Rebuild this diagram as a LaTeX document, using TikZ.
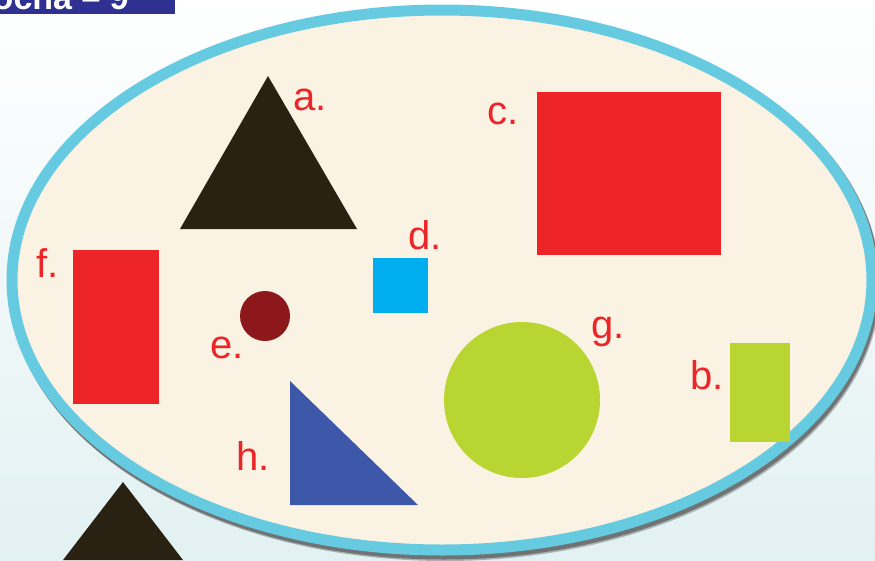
\documentclass[tikz,border=0pt]{standalone}
\usepackage{fontspec}
\setmainfont{Liberation Sans}
\definecolor{bgbot}{RGB}{226,241,242}
\definecolor{cream}{RGB}{250,242,227}
\definecolor{rimblue}{RGB}{102,203,224}
\definecolor{shpred}{RGB}{237,36,40}
\definecolor{shpblack}{RGB}{41,34,18}
\definecolor{shpcyan}{RGB}{0,174,239}
\definecolor{shpmaroon}{RGB}{140,24,28}
\definecolor{shpgreen}{RGB}{185,213,50}
\definecolor{shpblue}{RGB}{61,88,168}
\definecolor{hdrblue}{RGB}{46,49,146}
\tikzset{
  lbl/.style={text=shpred, inner sep=0pt, anchor=base west, font=\fontsize{40}{40}\selectfont},
  shp/.style={draw=none}
}
\begin{document}
\begin{tikzpicture}[x=1pt,y=-1pt]
\useasboundingbox (0,0) rectangle (875,560);
\shade[top color=white, bottom color=bgbot] (0,0) rectangle (875,560);
% header
\begin{scope}
\clip (0,0) rectangle (875,14);
\fill[hdrblue] (0,0) rectangle (175,14);
\node[text=white, inner sep=0pt, anchor=base east, font=\fontsize{34}{34}\selectfont\bfseries] (hdr) at (129,9) {ločna -- 9};
\end{scope}
% ellipse with shadow
\draw[black!75, line width=11pt, opacity=0.55] (444,283) ellipse [x radius=430, y radius=271];
\draw[black!75, line width=11pt, opacity=0.35] (445,284.5) ellipse [x radius=430, y radius=271];
\draw[rimblue, fill=cream, line width=11pt] (442,280) ellipse [x radius=430, y radius=270];
% a
\fill[shpblack] (268,76) -- (357,229) -- (180,229) -- cycle;
\node[lbl] (la) at (293,110) {a.};
% c
\fill[shpred] (537,92) rectangle (721,255);
\node[lbl] (lc) at (487,124) {c.};
% d
\fill[shpcyan] (373,258) rectangle (428,313);
\node[lbl] (ld) at (408,249) {d.};
% e
\fill[shpmaroon] (265,316) circle (25);
\node[lbl] (le) at (210,358) {e.};
% f
\fill[shpred] (73,250) rectangle (159,404);
\node[lbl] (lf) at (36,277) {f.};
% g
\fill[shpgreen] (522,400) circle (78);
\node[lbl] (lg) at (591,338) {g.};
% b
\fill[shpgreen] (730,343) rectangle (790,442);
\node[lbl] (lb) at (690,389) {b.};
% h
\fill[shpblue] (290,381) -- (418,505) -- (290,505) -- cycle;
\node[lbl] (lh) at (236,470) {h.};
% bottom triangle
\fill[shpblack] (123,482) -- (183,560) -- (63,560) -- cycle;
\end{tikzpicture}
\end{document}
